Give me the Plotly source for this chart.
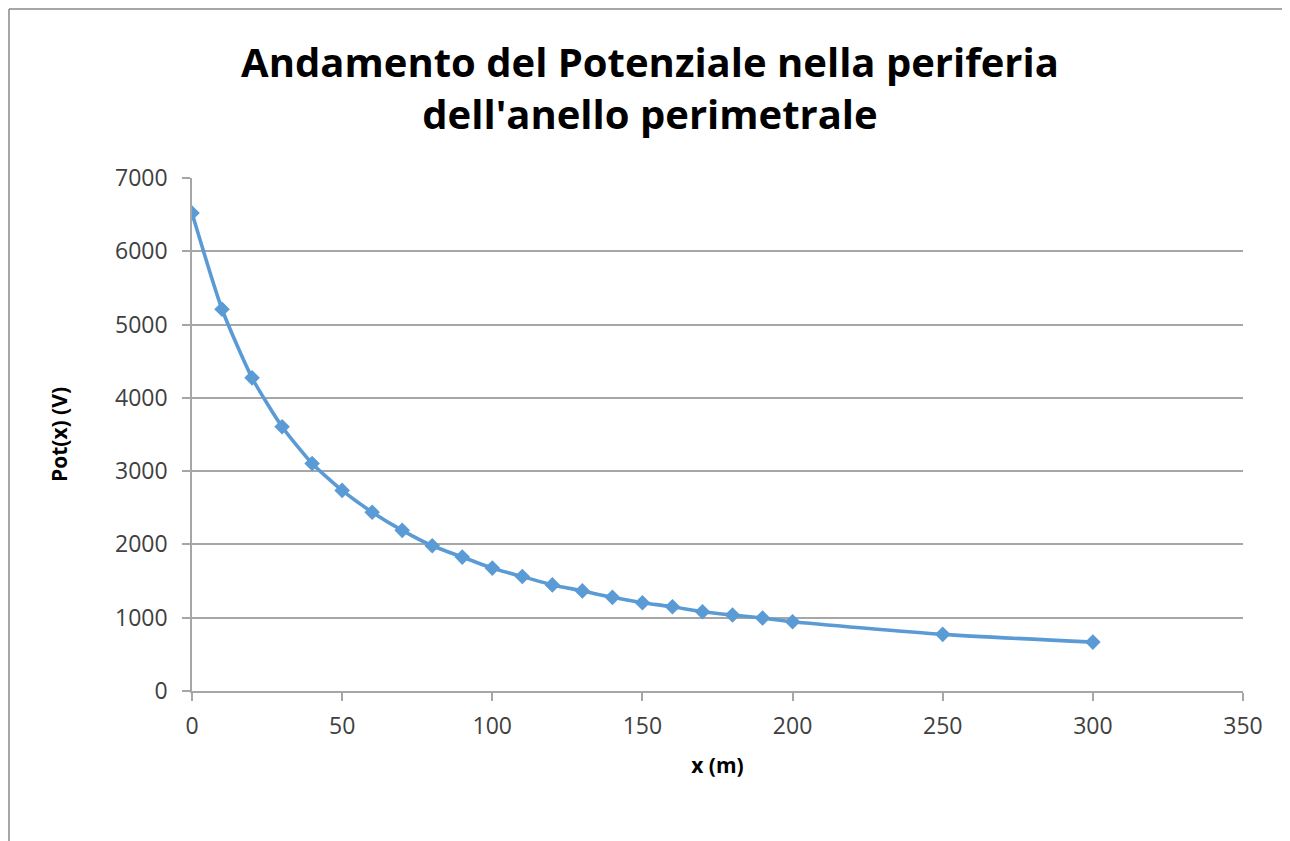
import plotly.graph_objects as go

x_m = [0, 10, 20, 30, 40, 50, 60, 70, 80, 90, 100, 110, 120, 130, 140, 150,
       160, 170, 180, 190, 200, 250, 300]
pot_v = [6522, 5209, 4273, 3606, 3105, 2737, 2440, 2192, 1982, 1827, 1677, 1562,
         1448, 1366, 1278, 1205, 1150, 1082, 1037, 996, 945, 773, 667]

title_text = "Andamento del Potenziale nella periferia<br>dell'anello perimetrale"
x_title = "x (m)"
y_title = "Pot(x) (V)"

blue = "#5B9BD5"
grid = "#A6A6A6"
font_family = "Open Sans, Noto Sans, sans-serif"

OFF = 8  # page body margin
W, H = 1290 - OFF, 841 - OFF
L, R, T, B = 192 - OFF, 1243 - OFF, 178 - OFF, 691 - OFF

fig = go.Figure()
fig.add_trace(go.Scatter(
    x=x_m, y=pot_v, mode="lines+markers",
    line=dict(color=blue, width=3.6, shape="spline", smoothing=0.6),
    marker=dict(symbol="diamond", size=12, color=blue),
    showlegend=False,
))

fig.update_layout(
    width=W, height=H,
    margin=dict(l=L, r=W - R, t=T, b=H - B, autoexpand=False),
    paper_bgcolor="white", plot_bgcolor="white",
    title=dict(text=title_text, x=(650 - OFF) / W,
               xanchor="center", y=1 - (77 - OFF) / H, yanchor="middle",
               font=dict(family=font_family, size=40, color="#000000", weight="bold")),
    font=dict(family=font_family, color="#404040"),
    xaxis=dict(range=[0, 350], tickvals=[0, 50, 100, 150, 200, 250, 300, 350],
               showgrid=False, showline=True, linecolor=grid, linewidth=1.5,
               ticks="outside", ticklen=8, tickcolor=grid, tickwidth=1.5,
               ticklabelstandoff=6,
               tickfont=dict(size=23, color="#404040"), zeroline=False,
               title=dict(text=x_title, standoff=18,
                          font=dict(size=21, color="#000000", weight="bold"))),
    yaxis=dict(range=[0, 7000], dtick=1000, showgrid=True, gridcolor=grid, gridwidth=1.5,
               showline=True, linecolor=grid, linewidth=1.5,
               ticks="outside", ticklen=8, tickcolor=grid, tickwidth=1.5,
               ticklabelstandoff=10,
               tickfont=dict(size=23, color="#404040"), zeroline=False,
               title=dict(text=y_title, standoff=42,
                          font=dict(size=21, color="#000000", weight="bold"))),
)

# outer chart border (top and left edges visible)
bx = (1 - L) / (R - L)
by = (B - 1) / (B - T)
fig.add_shape(type="line", xref="paper", yref="paper",
              x0=bx, x1=(1300 - L) / (R - L), y0=by, y1=by,
              line=dict(color="#888888", width=1.5))
fig.add_shape(type="line", xref="paper", yref="paper",
              x0=bx, x1=bx, y0=by, y1=(B - 860) / (B - T),
              line=dict(color="#888888", width=1.5))

fig.write_html("out.html")
